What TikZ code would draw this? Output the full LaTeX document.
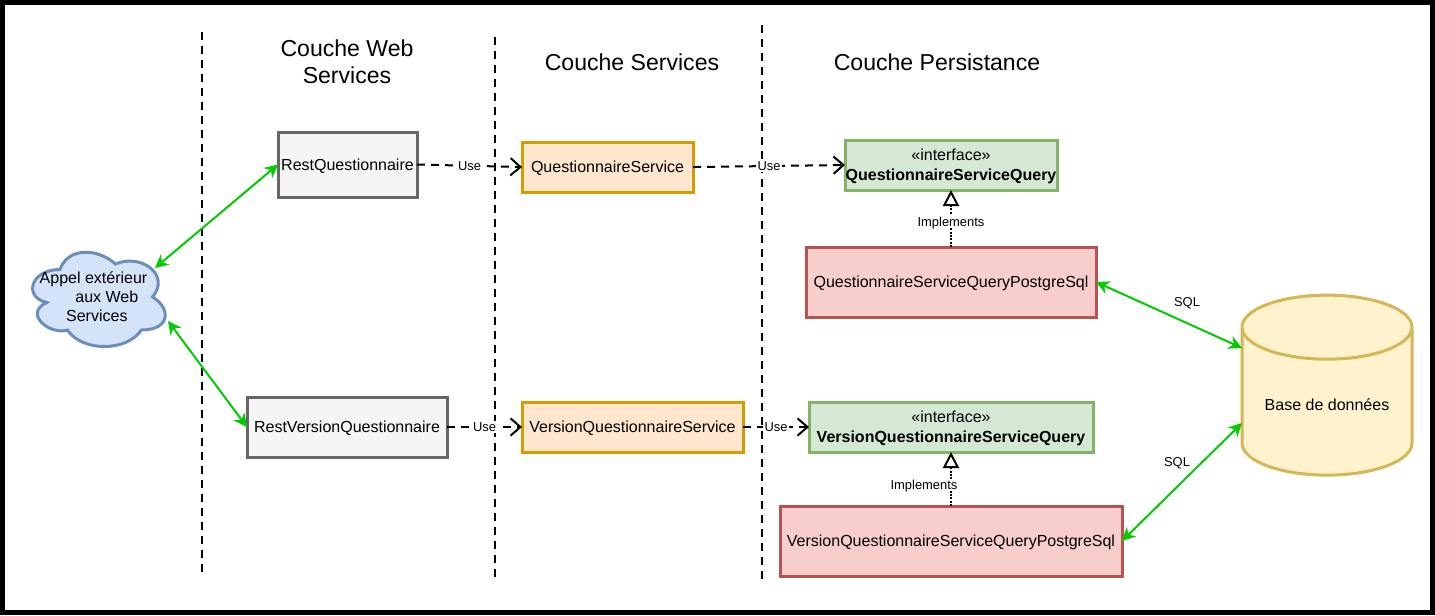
\documentclass[tikz,border=0pt]{standalone}
\usepackage{fontspec}
\setmainfont{Liberation Sans}
\usetikzlibrary{shapes.geometric,arrows.meta,positioning}
\definecolor{grisf}{HTML}{F5F5F5}
\definecolor{grisd}{HTML}{666666}
\definecolor{orangef}{HTML}{FFE6CC}
\definecolor{oranged}{HTML}{D79B00}
\definecolor{vertf}{HTML}{D5E8D4}
\definecolor{vertd}{HTML}{82B366}
\definecolor{rougef}{HTML}{F8CECC}
\definecolor{rouged}{HTML}{B85450}
\definecolor{jaunef}{HTML}{FFF2CC}
\definecolor{jauned}{HTML}{D6B656}
\definecolor{bleuf}{HTML}{D4E3F7}
\definecolor{bleud}{HTML}{6C8EBF}
\definecolor{flux}{HTML}{00CC00}

\begin{document}
\begin{tikzpicture}[
  x=0.75pt, y=-0.75pt,
  box/.style={draw, line width=2.25pt, outer sep=0pt, inner sep=0pt, align=center, text depth=0pt, font=\fontsize{12}{15}\selectfont},
  web/.style={box, draw=grisd, fill=grisf, minimum height=48.75pt},
  svc/.style={box, draw=oranged, fill=orangef, minimum height=37.5pt},
  itf/.style={box, draw=vertd, fill=vertf, minimum height=37.5pt},
  impl/.style={box, draw=rouged, fill=rougef, minimum height=52.5pt},
  titre/.style={align=center, font=\fontsize{17.3}{20.5}\selectfont},
  lbl/.style={font=\fontsize{9.7}{11}\selectfont, inner sep=1pt, text depth=0pt},
  sep/.style={line width=1.5pt, dash pattern=on 6pt off 4.5pt},
  use/.style={line width=1.5pt, dash pattern=on 6pt off 4.5pt, -{Straight Barb[length=7.5pt,width=13pt,line width=1.5pt]}},
  real/.style={line width=1.5pt, densely dotted, -{Triangle[open,fill=white,length=12pt,width=12pt,line width=1.5pt]}},
  sql/.style={line width=1.5pt, draw=flux, {Stealth[length=10pt,width=10pt]}-{Stealth[length=10pt,width=10pt]}}
]
\fill[black] (0,0) rectangle (1435,615);
\fill[white] (5,5) rectangle (1430,610);

\draw[sep] (202,32) -- (202,578);
\draw[sep] (495,37) -- (495,583);
\draw[sep] (762,25) -- (762,582);

\node[titre] (tweb) at (347,62) {Couche Web\\Services};
\node[titre] (tsvc) at (632,62) {Couche Services};
\node[titre] (tper) at (937,62) {Couche Persistance};

\node[web, minimum width=104.25pt] (rq) at (347.5,164.5) {RestQuestionnaire};
\node[svc, minimum width=128.25pt, right=78.75pt of rq, yshift=-1.9pt] (qs) {QuestionnaireService};
\node[itf, minimum width=159pt] (qi) at (951,165) {«interface»\\\textbf{QuestionnaireServiceQuery}};
\node[impl, minimum width=217.5pt, below=42.75pt of qi] (qp) {QuestionnaireServiceQueryPostgreSql};

\node[web, minimum width=150pt, minimum height=45pt] (rv) at (347,427) {RestVersionQuestionnaire};
\node[svc, minimum width=165.75pt, right=56.25pt of rv] (vs) {VersionQuestionnaireService};
\node[itf, minimum width=213pt, right=49.5pt of vs] (vi) {«interface»\\\textbf{VersionQuestionnaireServiceQuery}};
\node[impl, minimum width=256.5pt, below=40.5pt of vi] (vp) {VersionQuestionnaireServiceQueryPostgreSql};

% nuage
\draw[line width=2.25pt, draw=bleud, fill=bleuf, shift={(23,242)}, x=111pt, y=-82.5pt]
  (0.25,0.25) .. controls (0.05,0.25) and (0,0.5) .. (0.16,0.55)
  .. controls (0,0.65) and (0.18,0.85) .. (0.3,0.8)
  .. controls (0.4,1) and (0.7,1) .. (0.8,0.8)
  .. controls (1,0.8) and (1,0.6) .. (0.875,0.5)
  .. controls (1,0.3) and (0.8,0.1) .. (0.625,0.2)
  .. controls (0.5,0.05) and (0.3,0.05) .. (0.25,0.25) -- cycle;
\node[font=\fontsize{12}{14.3}\selectfont, align=center] (ext) at (93.5,297) {Appel extérieur\\\hspace*{20pt}aux Web\\\hspace*{5pt}Services};
\coordinate (exth) at (155,268);
\coordinate (extb) at (168,321);

\node[cylinder, shape border rotate=90, aspect=0.48, draw=jauned, line width=2.25pt, outer sep=0pt,
  cylinder uses custom fill, cylinder body fill=jaunef, cylinder end fill=jaunef, text depth=3pt,
  minimum width=127.5pt, minimum height=135pt, font=\fontsize{12}{14}\selectfont] (bd) at (1327,407) {Base de données};
\coordinate (bdh) at (1242,348);
\coordinate (bdb) at (1242,423);

\draw[use] (rq.east) -- node[lbl, fill=white] (u1) {Use} (qs.west);
\draw[use] (qs.east) -- node[lbl, fill=white] (u2) {Use} (qi.west);
\draw[use] (rv.east) -- node[lbl, fill=white] (u3) {Use} (vs.west);
\draw[use] (vs.east) -- node[lbl, fill=white] (u4) {Use} (vi.west);

\draw[real] (qp.north) -- node[lbl, fill=white, pos=0.45] (i1) {Implements} (qi.south);
\draw[real] (vp.north) -- (vi.south);
\node[lbl, fill=white] (i2) at (924,485) {Implements};

\draw[sql] (exth) -- (rq.west);
\draw[sql] (extb) -- (rv.west);
\draw[sql] (qp.east) -- (bdh);
\draw[sql] (vp.east) -- (bdb);

\node[lbl] (s1) at (1187,302) {SQL};
\node[lbl] (s2) at (1177,462) {SQL};
\end{tikzpicture}
\end{document}
